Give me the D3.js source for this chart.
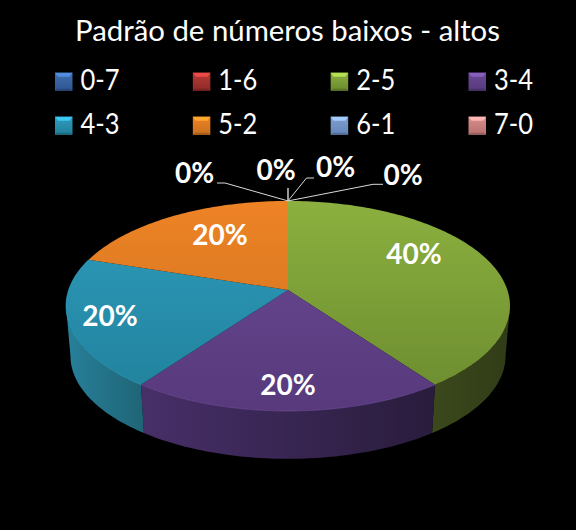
<!DOCTYPE html>
<html>
<head>
<meta charset="utf-8">
<script src="https://cdn.jsdelivr.net/npm/d3@7"></script>
<style>
html, body { margin: 0; padding: 0; background: #000; }
svg { display: block; }
text { font-family: Lato, "Open Sans", sans-serif; fill: #fff; }
</style>
</head>
<body>
<svg width="576" height="530"></svg>
<script>
var title = "Padrão de números baixos - altos";
var categories = ["0-7", "1-6", "2-5", "3-4", "4-3", "5-2", "6-1", "7-0"];
var shares = [0, 0, 40, 20, 20, 20, 0, 0];
var colors = ["#3f6fb0", "#b83a37", "#8cb03f", "#6b4a94", "#2e9cbd", "#ee8325", "#7f9fd0", "#d88e8c"];
var shades = ["#2f5590", "#8e2a28", "#6a8a2e", "#57397c", "#20809a", "#c9701f", "#6486b8", "#b87270"];
var wallLight = ["#2a4a78", "#702222", "#3b481c", "#472f68", "#27809a", "#8a4a14", "#50709c", "#906060"];
var wallDark = ["#1c3252", "#4a1616", "#303c16", "#291c3c", "#1f6475", "#5e320e", "#38506e", "#604040"];

// label anchors, one per category
var labelX = [276, 335.5, 414, 288, 110, 220, 403, 194.5];
var labelY = [170.5, 167.5, 254, 385, 316, 235, 175, 173];
// leader elbows for the empty slices
var leaders = {
    0: [[288, 188]],
    1: [[314, 178], [306.5, 178]],
    6: [[383, 184.3], [373, 184.3]],
    7: [[217, 183], [225, 183]]
};

var svg = d3.select("svg");
var defs = svg.append("defs");

var tilt = 0.152;
var depth = 50.3;
var bottomScale = 0.98;
var x = d3.scaleLinear().domain([-1, 1]).range([288 - 219.4, 288 + 219.4]);
var y = d3.scaleLinear().domain([-1, 1]).range([290 - 102.6, 290 + 102.6]);

// angles where the rim reaches its left and right extremes
var wallStart = Math.acos(-tilt);
var wallEnd = 2 * Math.PI - wallStart;

function project(angle, r, level) {
    var px = r * Math.sin(angle);
    var ps = -r * Math.cos(angle);
    var w = 1 - tilt * ps;
    var sx = x(px / w);
    var sy = y(ps / w);
    if (level) {
        sx = 288 + (sx - 288) * bottomScale;
        sy = 290 + (sy - 290) * bottomScale + depth;
    }
    return [sx, sy];
}

function rim(a0, a1, level) {
    var n = Math.max(2, Math.ceil((a1 - a0) / 0.02));
    return d3.range(n + 1).map(function (i) {
        return project(a0 + (a1 - a0) * i / n, 1, level);
    });
}

var line = d3.line();

var pie = d3.pie().sort(null).value(function (d) { return d; });
var arcs = pie(shares);
var filled = arcs.filter(function (d) { return d.value > 0; });

// gradients
categories.forEach(function (c, i) {
    var g = defs.append("linearGradient").attr("id", "top" + i)
        .attr("gradientUnits", "userSpaceOnUse")
        .attr("x1", 0).attr("y1", 201).attr("x2", 0).attr("y2", 411);
    g.append("stop").attr("offset", 0).attr("stop-color", colors[i]);
    g.append("stop").attr("offset", 1).attr("stop-color", shades[i]);

    // walls run from the lit edge of the slice to its dark edge
    var wallFrom = i == 2 ? 435 : (i == 3 ? 140 : 66);
    var wallTo = i == 2 ? 510 : (i == 3 ? 435 : 145);
    var w = defs.append("linearGradient").attr("id", "wall" + i)
        .attr("gradientUnits", "userSpaceOnUse")
        .attr("x1", wallFrom).attr("y1", 0).attr("x2", wallTo).attr("y2", 0);
    w.append("stop").attr("offset", 0).attr("stop-color", wallLight[i]);
    w.append("stop").attr("offset", 1).attr("stop-color", wallDark[i]);

    var s = defs.append("linearGradient").attr("id", "swatch" + i)
        .attr("x1", 0).attr("y1", 0).attr("x2", 0).attr("y2", 1);
    s.append("stop").attr("offset", 0).attr("stop-color", colors[i]);
    s.append("stop").attr("offset", 1).attr("stop-color", shades[i]);
});

svg.append("rect").attr("width", 576).attr("height", 530).attr("fill", "#000");

// title
svg.append("text")
    .attr("x", 75).attr("y", 40.5)
    .attr("font-size", 28.5)
    .attr("textLength", 425)
    .attr("lengthAdjust", "spacingAndGlyphs")
    .text(title);

// legend
var legend = d3.scaleLinear().domain([0, 3]).range([55, 468.5]);
var swatchW = 17.5, swatchH = 18;
var item = svg.selectAll(".item").data(categories).enter().append("g")
    .attr("class", "item")
    .attr("transform", function (d, i) {
        return "translate(" + legend(i % 4) + "," + (i < 4 ? 72.7 : 116.7) + ")";
    });
item.append("rect")
    .attr("width", swatchW).attr("height", swatchH)
    .attr("fill", function (d, i) { return "url(#swatch" + i + ")"; });
// bevel of the swatch: lit top band and shaded bottom band
item.append("path")
    .attr("fill", function (d, i) { return d3.rgb(colors[i]).brighter(0.7); })
    .attr("d", line([[0, 0], [swatchW, 0], [swatchW - 3, 4], [3, 4]]) + "Z");
item.append("path")
    .attr("fill", function (d, i) { return d3.rgb(shades[i]).darker(0.5); })
    .attr("d", line([[0, swatchH], [swatchW, swatchH], [swatchW - 2, swatchH - 2], [2, swatchH - 2]]) + "Z");
item.append("text")
    .attr("x", 25.5).attr("y", 17.3)
    .attr("font-size", 28)
    .attr("textLength", 39)
    .attr("lengthAdjust", "spacingAndGlyphs")
    .text(function (d) { return d; });

// side walls, only the front part of the rim shows
var front = filled.filter(function (d) {
    return d.endAngle > wallStart && d.startAngle < wallEnd;
});
svg.selectAll(".wall").data(front).enter().append("path")
    .attr("class", "wall")
    .attr("fill", function (d) { return "url(#wall" + d.index + ")"; })
    .attr("d", function (d) {
        var a0 = Math.max(d.startAngle, wallStart);
        var a1 = Math.min(d.endAngle, wallEnd);
        return line(rim(a0, a1, 0).concat(rim(a0, a1, 1).reverse())) + "Z";
    });

// top face
svg.selectAll(".slice").data(filled).enter().append("path")
    .attr("class", "slice")
    .attr("fill", function (d) { return "url(#top" + d.index + ")"; })
    .attr("d", function (d) {
        return line([project(0, 0, 0)].concat(rim(d.startAngle, d.endAngle, 0))) + "Z";
    });

// bevel highlight on the front rim
svg.selectAll(".bevel").data(filled.filter(function (d) { return d.index == 3 || d.index == 4; }))
    .enter().append("path")
    .attr("class", "bevel")
    .attr("fill", "none")
    .attr("stroke", function (d) { return d3.rgb(colors[d.index]).brighter(0.5); })
    .attr("stroke-opacity", 0.5)
    .attr("stroke-width", 1)
    .attr("d", function (d) { return line(rim(d.startAngle, d.endAngle, 0)); });

// leader lines for the 0% slices
var apex = project(0, 1, 0);
Object.keys(leaders).forEach(function (k) {
    svg.append("path")
        .attr("fill", "none")
        .attr("stroke", +k === 0 ? "#999" : "#d9d9d9")
        .attr("stroke-width", +k === 0 ? 2 : 1)
        .attr("d", line(leaders[k].concat([apex])));
});

// percent labels
svg.selectAll(".pct").data(arcs).enter().append("text")
    .attr("class", "pct")
    .attr("x", function (d, i) { return labelX[i]; })
    .attr("y", function (d, i) { return labelY[i]; })
    .attr("dy", "0.35em")
    .attr("text-anchor", "middle")
    .attr("font-size", 28)
    .attr("font-weight", "bold")
    .text(function (d) { return d.value + "%"; });
</script>
</body>
</html>
